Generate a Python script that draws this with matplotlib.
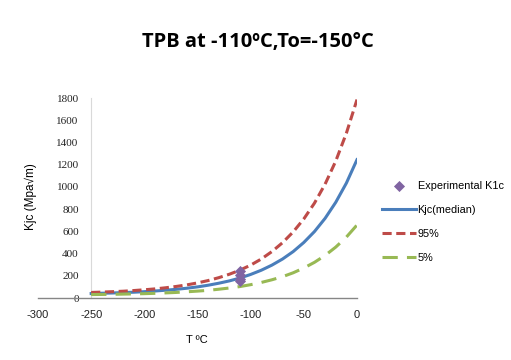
import numpy as np
import matplotlib.pyplot as plt

plt.rcParams['axes.unicode_minus'] = False

# temperatures (C) and read-off toughness values (MPa sqrt m)
temps = [-250, -240, -230, -220, -210, -200, -190, -180, -170, -160, -150,
         -140, -130, -120, -110, -100, -90, -80, -70, -60, -50, -40, -30,
         -20, -10, 0]
kjc_median = [40, 43, 45, 49, 52, 57, 63, 70, 78, 88, 100, 115, 133, 154,
              180, 212, 250, 296, 351, 418, 500, 598, 717, 861, 1034, 1245]
kjc_95 = [50, 53, 57, 61, 67, 74, 82, 92, 104, 118, 136, 157, 183, 214,
          251, 296, 351, 418, 498, 595, 712, 854, 1025, 1232, 1483, 1786]
kjc_5 = [31, 32, 33, 35, 37, 39, 42, 46, 50, 56, 62, 69, 79, 90, 103, 120,
         140, 164, 192, 227, 270, 321, 383, 458, 548, 657]

exp_temps = [-110, -110, -110, -110]
exp_k1c = [155, 175, 210, 245]

fig = plt.figure(figsize=(5.11, 3.6), dpi=100)
ax = fig.add_axes([38 / 511, 62 / 360, 319 / 511, 200 / 360])

ax.plot(temps, kjc_median, color='#4A7EBB', lw=2.2, label='Kjc(median)', zorder=3)
ax.plot(temps, kjc_95, color='#BE4B48', lw=2.2, dashes=(3, 1.5), label='95%', zorder=3)
ax.plot(temps, kjc_5, color='#98B954', lw=2.2, dashes=(5, 3), label='5%', zorder=3)
ax.scatter(exp_temps, exp_k1c, marker='D', s=32, color='#8064A2',
           label='Experimental K1c', zorder=4, linewidths=0)

ax.set_xlim(-300, 0)
ax.set_ylim(0, 1800)
ax.set_xticks(range(-300, 1, 50))
ax.set_yticks(range(0, 1801, 200))

for s in ['top', 'right']:
    ax.spines[s].set_visible(False)
ax.spines['left'].set_position(('data', -250))
ax.spines['left'].set_color('#D9D9D9')
ax.spines['bottom'].set_color('#868686')
ax.spines['bottom'].set_linewidth(1.0)
ax.tick_params(length=0)
ax.tick_params(axis='y', pad=9, labelsize=8, colors='#222222')
ax.tick_params(axis='x', pad=9, labelsize=8, colors='#222222')
for t in ax.get_yticklabels():
    t.set_family('Liberation Serif')
for t in ax.get_xticklabels():
    t.set_family('Liberation Sans')

fig.text(197 / 511, 1 - 340 / 360, 'T ºC', ha='center', va='center',
         fontsize=8, family='Liberation Sans')
fig.text(31 / 511, 1 - 197 / 360, 'Kjc (Mpa√m)', ha='center', va='center',
         rotation=90, fontsize=8.5, family='Liberation Sans')
fig.text(258 / 511, 1 - 42 / 360, 'TPB at -110ºC,To=-150°C', ha='center',
         va='center', fontsize=14.5, fontweight='bold', family='Open Sans')

handles, labels = ax.get_legend_handles_labels()
order = [3, 0, 1, 2]
ax.legend([handles[i] for i in order], [labels[i] for i in order],
          loc='center left', bbox_to_anchor=(372 / 511, 1 - 222 / 360),
          bbox_transform=fig.transFigure, frameon=False,
          handlelength=3.2, handletextpad=0.1, labelspacing=1.3,
          prop={'family': 'Liberation Sans', 'size': 7.8})

fig.savefig('out.png', dpi=100)
